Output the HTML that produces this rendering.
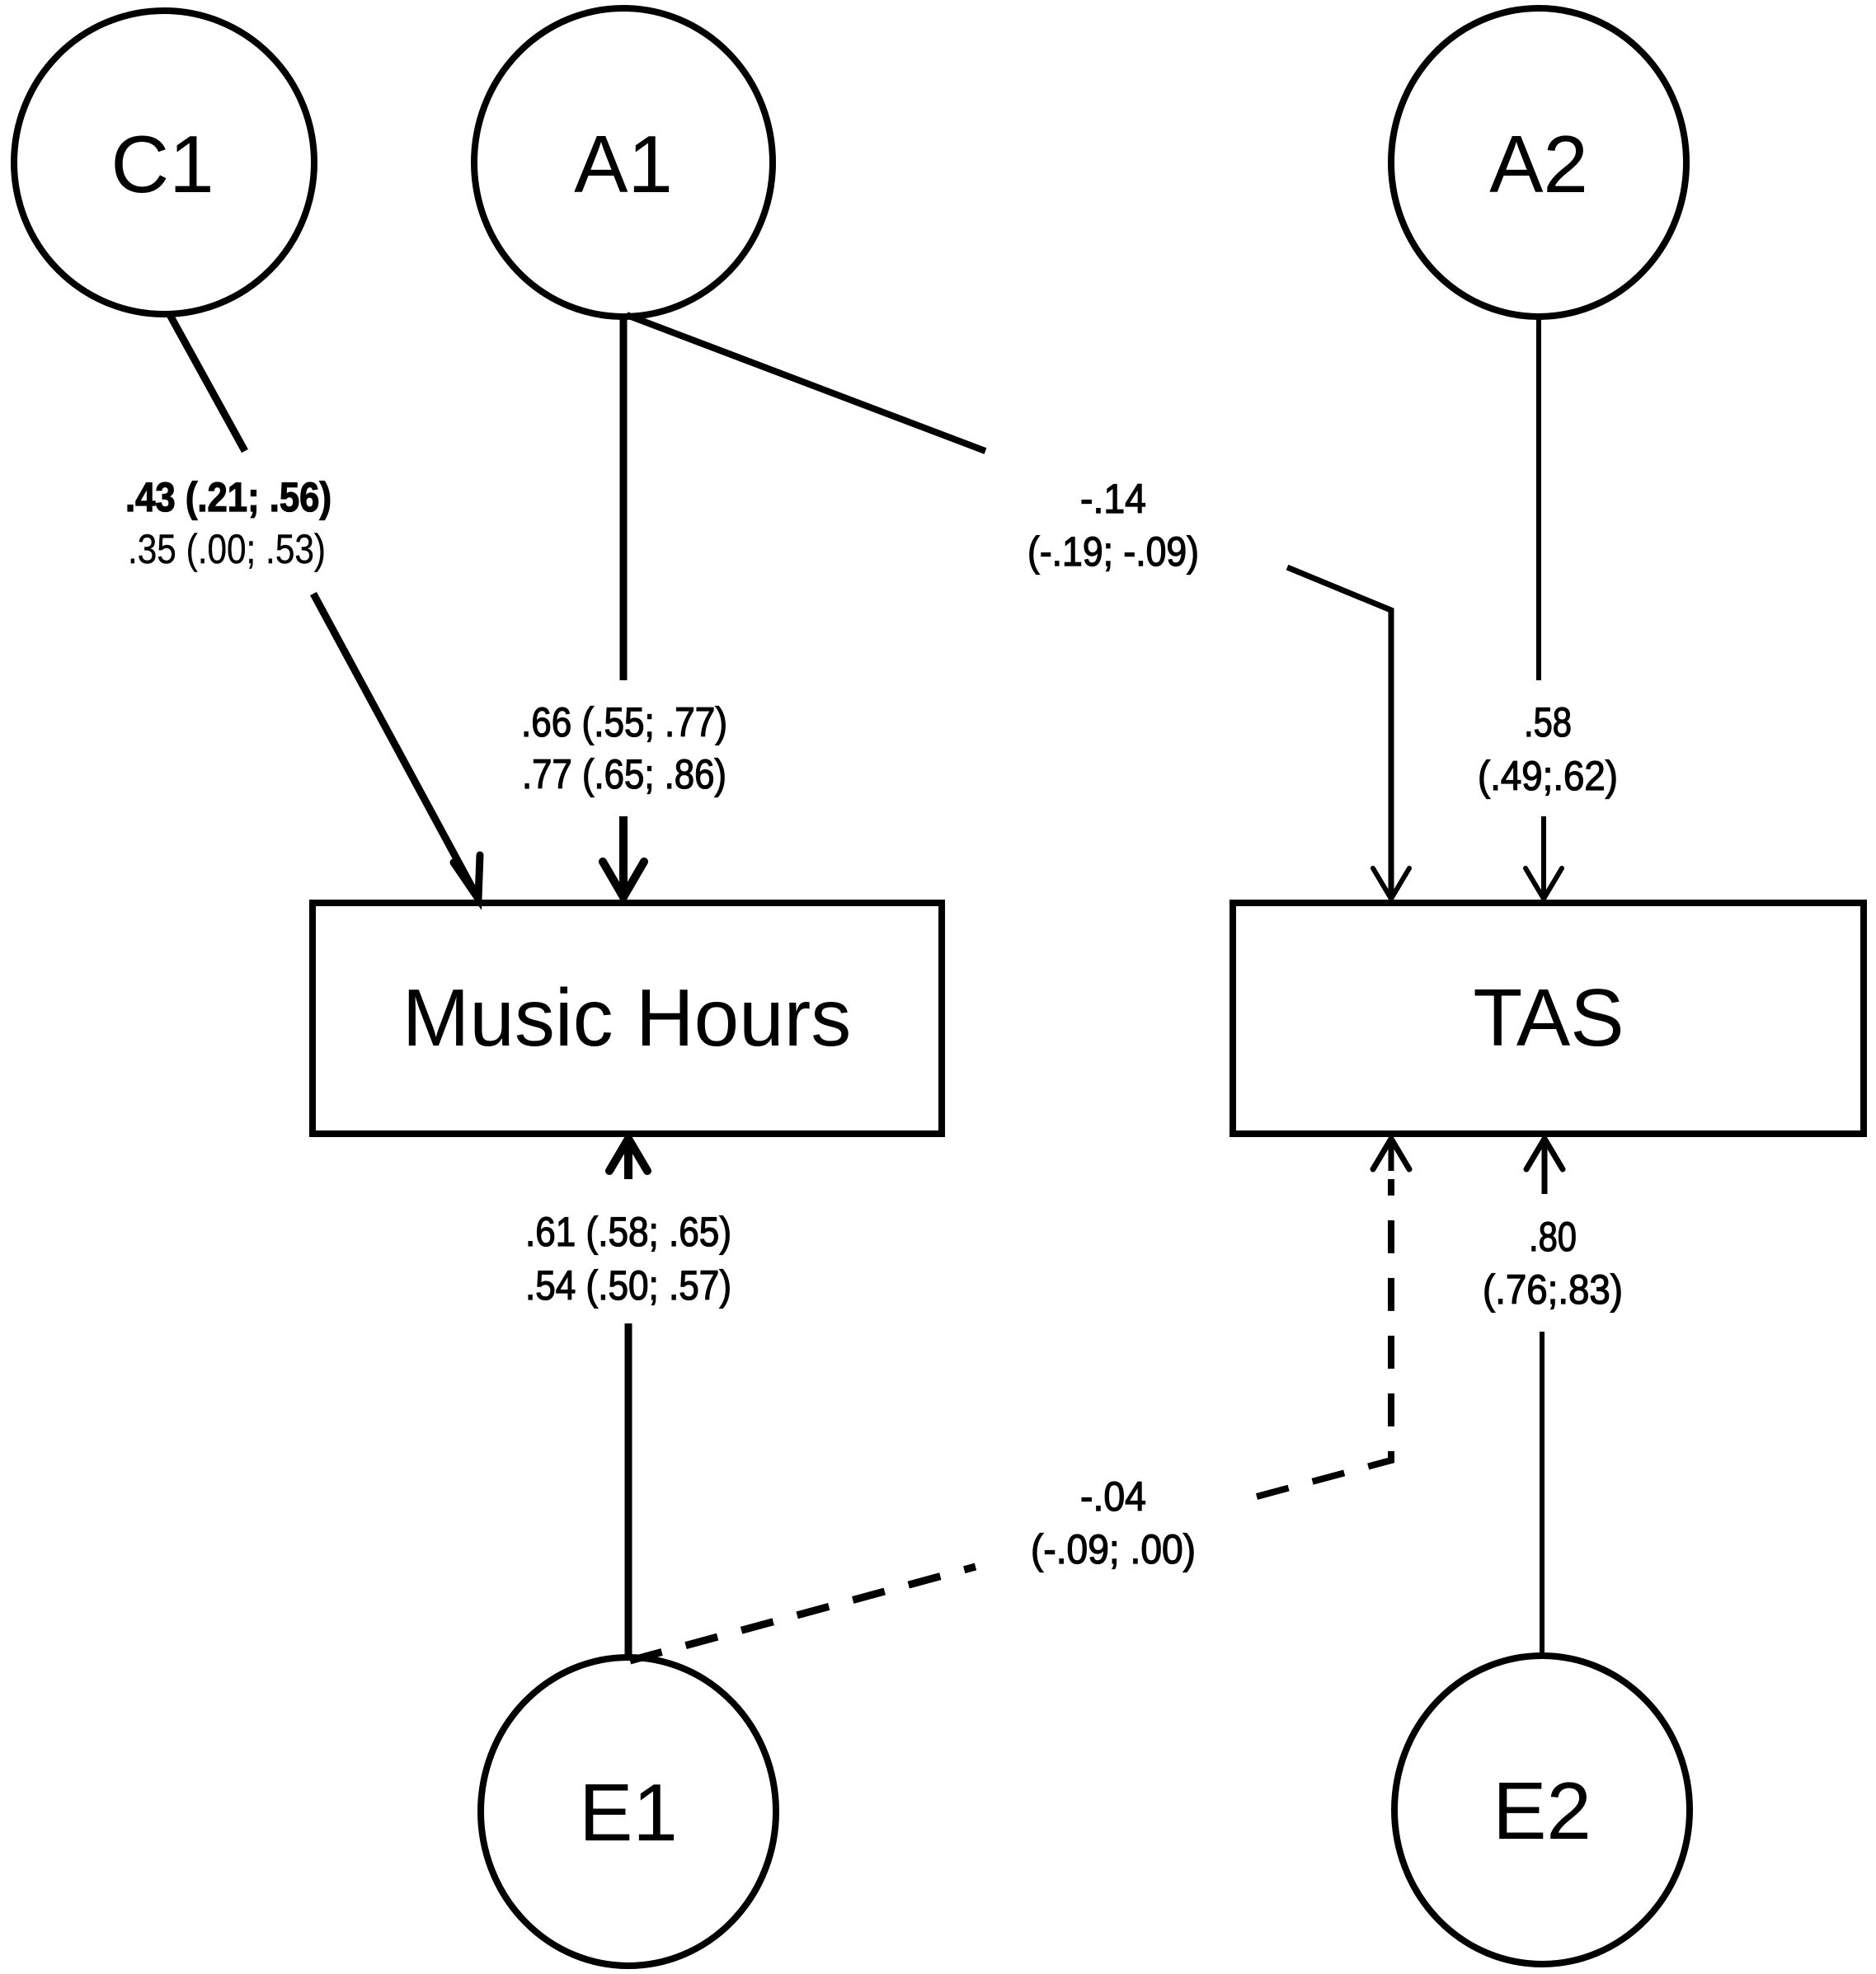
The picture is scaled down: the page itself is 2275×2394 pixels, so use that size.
<!DOCTYPE html>
<html><head><meta charset="utf-8"><style>
html,body{margin:0;padding:0;background:#fff;}
svg{display:block;}
.lbl{font-family:"Liberation Sans Narrow","Liberation Sans",sans-serif;font-size:50px;fill:#000;stroke:#000;stroke-width:1.3;}
.big{font-family:"Liberation Sans",sans-serif;font-size:98px;fill:#000;}
</style></head><body>
<svg width="2275" height="2394" viewBox="0 0 2275 2394" xmlns="http://www.w3.org/2000/svg">
<rect width="2275" height="2394" fill="#fff"/>
<g fill="none" stroke="#000" stroke-width="8">
<ellipse cx="199" cy="197" rx="182" ry="184"/>
<ellipse cx="756" cy="197" rx="181" ry="187"/>
<ellipse cx="1866" cy="197" rx="179" ry="187"/>
<ellipse cx="762" cy="2197" rx="179" ry="187"/>
<ellipse cx="1870" cy="2195" rx="179" ry="187"/>
<rect x="379" y="1095" width="763" height="280"/>
<rect x="1495" y="1095" width="765" height="280"/>
</g>
<g fill="none" stroke="#000" stroke-linecap="butt" stroke-linejoin="miter">
<line x1="206" y1="382" x2="297" y2="547" stroke-width="9"/>
<line x1="380" y1="720" x2="580" y2="1090" stroke-width="9"/>
<polyline points="550,1046 580,1090 582,1037" stroke-width="9" stroke-linecap="round"/>
<line x1="756" y1="382" x2="756" y2="825" stroke-width="9"/>
<line x1="756" y1="990" x2="756" y2="1090" stroke-width="10"/>
<polyline points="731,1045 756,1088 781,1045" stroke-width="10" stroke-linecap="round"/>
<line x1="760" y1="382" x2="1195" y2="547" stroke-width="8"/>
<polyline points="1561,688 1687,740 1687,1090" stroke-width="7"/>
<polyline points="1665,1053 1687,1090 1709,1053" stroke-width="6" stroke-linecap="round"/>
<line x1="1866" y1="382" x2="1866" y2="825" stroke-width="6"/>
<line x1="1872" y1="990" x2="1872" y2="1090" stroke-width="6"/>
<polyline points="1850,1053 1872,1090 1894,1053" stroke-width="6" stroke-linecap="round"/>
<line x1="762" y1="1605" x2="762" y2="2014" stroke-width="9"/>
<line x1="762" y1="1380" x2="762" y2="1430" stroke-width="10"/>
<polyline points="739,1420 762,1381 785,1420" stroke-width="10" stroke-linecap="round"/>
<polyline points="764,2014 1183,1900" stroke-width="9" stroke-dasharray="40,30"/>
<polyline points="1524,1815 1687,1771 1687,1430" stroke-width="8" stroke-dasharray="40,30"/>
<line x1="1687" y1="1380" x2="1687" y2="1420" stroke-width="7"/>
<polyline points="1665,1418 1687,1381 1709,1418" stroke-width="7" stroke-linecap="round"/>
<line x1="1870" y1="1615" x2="1870" y2="2012" stroke-width="6"/>
<line x1="1873" y1="1380" x2="1873" y2="1448" stroke-width="7"/>
<polyline points="1851,1418 1873,1381 1895,1418" stroke-width="7" stroke-linecap="round"/>
</g>
<g text-anchor="middle">
<text class="big" x="197" y="233">C1</text>
<text class="big" x="756" y="233">A1</text>
<text class="big" x="1866" y="233">A2</text>
<text class="big" x="762" y="2232">E1</text>
<text class="big" x="1870" y="2230">E2</text>
<text class="big" x="760" y="1268">Music Hours</text>
<text class="big" x="1878" y="1268">TAS</text>
</g>
<g text-anchor="middle">
<text class="lbl" x="277" y="620" font-weight="bold" textLength="250" lengthAdjust="spacingAndGlyphs">.43 (.21; .56)</text>
<text class="lbl" x="275" y="683" style="stroke-width:0.4" textLength="240" lengthAdjust="spacingAndGlyphs">.35 (.00; .53)</text>
<text class="lbl" x="1350" y="622" textLength="80" lengthAdjust="spacingAndGlyphs">-.14</text>
<text class="lbl" x="1350" y="686" textLength="208" lengthAdjust="spacingAndGlyphs">(-.19; -.09)</text>
<text class="lbl" x="757" y="893" textLength="250" lengthAdjust="spacingAndGlyphs">.66 (.55; .77)</text>
<text class="lbl" x="757" y="956" textLength="248" lengthAdjust="spacingAndGlyphs">.77 (.65; .86)</text>
<text class="lbl" x="1877" y="893" textLength="58" lengthAdjust="spacingAndGlyphs">.58</text>
<text class="lbl" x="1877" y="958" textLength="170" lengthAdjust="spacingAndGlyphs">(.49;.62)</text>
<text class="lbl" x="762" y="1511" textLength="250" lengthAdjust="spacingAndGlyphs">.61 (.58; .65)</text>
<text class="lbl" x="762" y="1576" textLength="250" lengthAdjust="spacingAndGlyphs">.54 (.50; .57)</text>
<text class="lbl" x="1883" y="1517" textLength="58" lengthAdjust="spacingAndGlyphs">.80</text>
<text class="lbl" x="1883" y="1581" textLength="170" lengthAdjust="spacingAndGlyphs">(.76;.83)</text>
<text class="lbl" x="1350" y="1832" textLength="80" lengthAdjust="spacingAndGlyphs">-.04</text>
<text class="lbl" x="1350" y="1896" textLength="200" lengthAdjust="spacingAndGlyphs">(-.09; .00)</text>
</g>
</svg>
</body></html>
